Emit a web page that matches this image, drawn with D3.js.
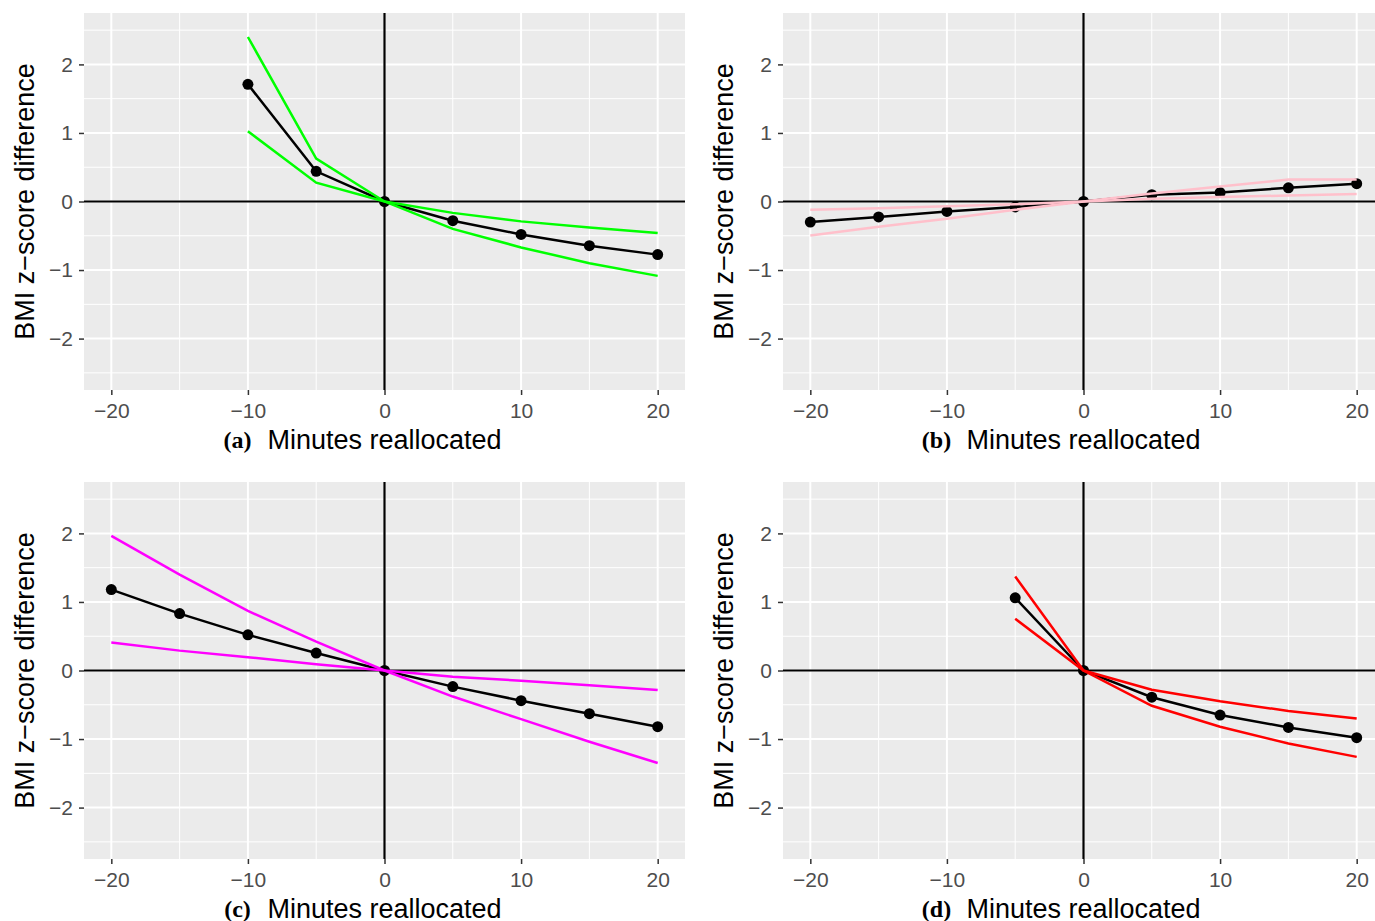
<!DOCTYPE html>
<html lang="en">
<head>
<meta charset="UTF-8">
<script src="https://cdn.jsdelivr.net/npm/d3@7"></script>
<style>
  body { margin: 0; background: #fff; }
  svg { display: block; }
</style>
</head>
<body>
<svg id="chart" width="1375" height="921"></svg>
<script>
// values
const minutesA = [-10, -5, 0, 5, 10, 15, 20];
const estA = [1.71, 0.44, 0, -0.28, -0.48, -0.645, -0.775];
const ciA1 = [2.40, 0.626, 0, -0.40, -0.67, -0.90, -1.085];
const ciA2 = [1.025, 0.274, 0, -0.166, -0.29, -0.38, -0.46];

const minutesB = [-20, -15, -10, -5, 0, 5, 10, 15, 20];
const estB = [-0.30, -0.225, -0.145, -0.08, 0, 0.10, 0.13, 0.20, 0.26];
const ciB1 = [-0.495, -0.37, -0.25, -0.12, 0, 0.118, 0.22, 0.32, 0.32];
const ciB2 = [-0.12, -0.098, -0.069, -0.04, 0, 0.04, 0.064, 0.088, 0.108];

const minutesC = [-20, -15, -10, -5, 0, 5, 10, 15, 20];
const estC = [1.18, 0.83, 0.52, 0.255, 0, -0.235, -0.44, -0.63, -0.82];
const ciC1 = [1.965, 1.40, 0.87, 0.42, 0, -0.38, -0.71, -1.04, -1.35];
const ciC2 = [0.41, 0.29, 0.195, 0.09, 0, -0.09, -0.15, -0.215, -0.285];

const minutesD = [-5, 0, 5, 10, 15, 20];
const estD = [1.06, 0, -0.39, -0.65, -0.83, -0.98];
const ciD1 = [1.37, 0, -0.515, -0.82, -1.065, -1.26];
const ciD2 = [0.755, 0, -0.28, -0.45, -0.59, -0.70];

const xTicks = [-20, -10, 0, 10, 20];
const yTicks = [-2, -1, 0, 1, 2];
const xMinor = [-15, -5, 5, 15];
const yMinor = [-2.5, -1.5, -0.5, 0.5, 1.5, 2.5];

const panels = [
  { tag: "(a)", col: 0, row: 0, x: minutesA, est: estA, lo: ciA1, hi: ciA2, color: "#00ff00" },
  { tag: "(b)", col: 1, row: 0, x: minutesB, est: estB, lo: ciB1, hi: ciB2, color: "#ffc0cb" },
  { tag: "(c)", col: 0, row: 1, x: minutesC, est: estC, lo: ciC1, hi: ciC2, color: "#ff00ff" },
  { tag: "(d)", col: 1, row: 1, x: minutesD, est: estD, lo: ciD1, hi: ciD2, color: "#ff0000" }
];

const svg = d3.select("#chart");
const pw = 601, ph = 377;
const sans = "'Liberation Sans', Arial, sans-serif";

const x = d3.scaleLinear().domain([-22, 22]).range([0, pw]);
const y = d3.scaleLinear().domain([-2.75, 2.75]).range([ph, 0]);

panels.forEach(p => {
  let left = 84 + p.col * 699;
  let top = 13 + p.row * 469;
  let g = svg.append("g").attr("transform", `translate(${left},${top})`);

  g.append("rect").attr("width", pw).attr("height", ph).attr("fill", "#ebebeb");

  // grid
  g.selectAll(".vminor").data(xMinor).join("line")
    .attr("x1", d => x(d)).attr("x2", d => x(d)).attr("y1", 0).attr("y2", ph)
    .attr("stroke", "#fff").attr("stroke-width", 1);
  g.selectAll(".hminor").data(yMinor).join("line")
    .attr("y1", d => y(d)).attr("y2", d => y(d)).attr("x1", 0).attr("x2", pw)
    .attr("stroke", "#fff").attr("stroke-width", 1);
  g.selectAll(".vmajor").data(xTicks).join("line")
    .attr("x1", d => x(d)).attr("x2", d => x(d)).attr("y1", 0).attr("y2", ph)
    .attr("stroke", "#fff").attr("stroke-width", 2);
  g.selectAll(".hmajor").data(yTicks).join("line")
    .attr("y1", d => y(d)).attr("y2", d => y(d)).attr("x1", 0).attr("x2", pw)
    .attr("stroke", "#fff").attr("stroke-width", 2);

  // zero lines
  g.append("line").attr("x1", 0).attr("x2", pw).attr("y1", y(0)).attr("y2", y(0))
    .attr("stroke", "#000").attr("stroke-width", 2.2);
  g.append("line").attr("x1", x(0)).attr("x2", x(0)).attr("y1", 0).attr("y2", ph)
    .attr("stroke", "#000").attr("stroke-width", 2.2);

  // axes
  let xa = g.append("g").attr("transform", `translate(0,${ph})`)
    .call(d3.axisBottom(x).tickValues(xTicks).tickFormat(d3.format("d")).tickSize(5).tickPadding(8));
  let ya = g.append("g")
    .call(d3.axisLeft(y).tickValues(yTicks).tickFormat(d3.format("d")).tickSize(5).tickPadding(6));
  [xa, ya].forEach(a => {
    a.select(".domain").remove();
    a.selectAll(".tick line").attr("stroke", "#333").attr("stroke-width", 1.5);
    a.selectAll(".tick text").attr("fill", "#4d4d4d")
      .style("font-family", sans).style("font-size", "21px");
  });

  // estimate line and points
  let pts = p.x.map((m, i) => [m, p.est[i]]);
  let line = d3.line().x(d => x(d[0])).y(d => y(d[1]));
  g.append("path").attr("d", line(pts)).attr("fill", "none")
    .attr("stroke", "#000").attr("stroke-width", 2.5);
  g.selectAll(".pt").data(pts).join("circle")
    .attr("cx", d => x(d[0])).attr("cy", d => y(d[1])).attr("r", 5.5).attr("fill", "#000");

  // interval lines
  [p.lo, p.hi].forEach(ci => {
    g.append("path").attr("d", line(p.x.map((m, i) => [m, ci[i]]))).attr("fill", "none")
      .attr("stroke", p.color).attr("stroke-width", 2.5);
  });

  // titles
  g.append("text")
    .attr("transform", `translate(${34 - 84},${ph / 2}) rotate(-90)`)
    .attr("text-anchor", "middle")
    .style("font-family", sans).style("font-size", "27px")
    .text("BMI z\u2212score difference");

  g.append("text").attr("x", x(0)).attr("y", 436)
    .attr("text-anchor", "middle")
    .style("font-family", sans).style("font-size", "27px")
    .text("Minutes reallocated");
  g.append("text").attr("x", x(0) - 147).attr("y", 435)
    .attr("text-anchor", "middle")
    .style("font-family", "'Liberation Serif', serif").style("font-weight", "bold").style("font-size", "24px")
    .text(p.tag);
});
</script>
</body>
</html>
